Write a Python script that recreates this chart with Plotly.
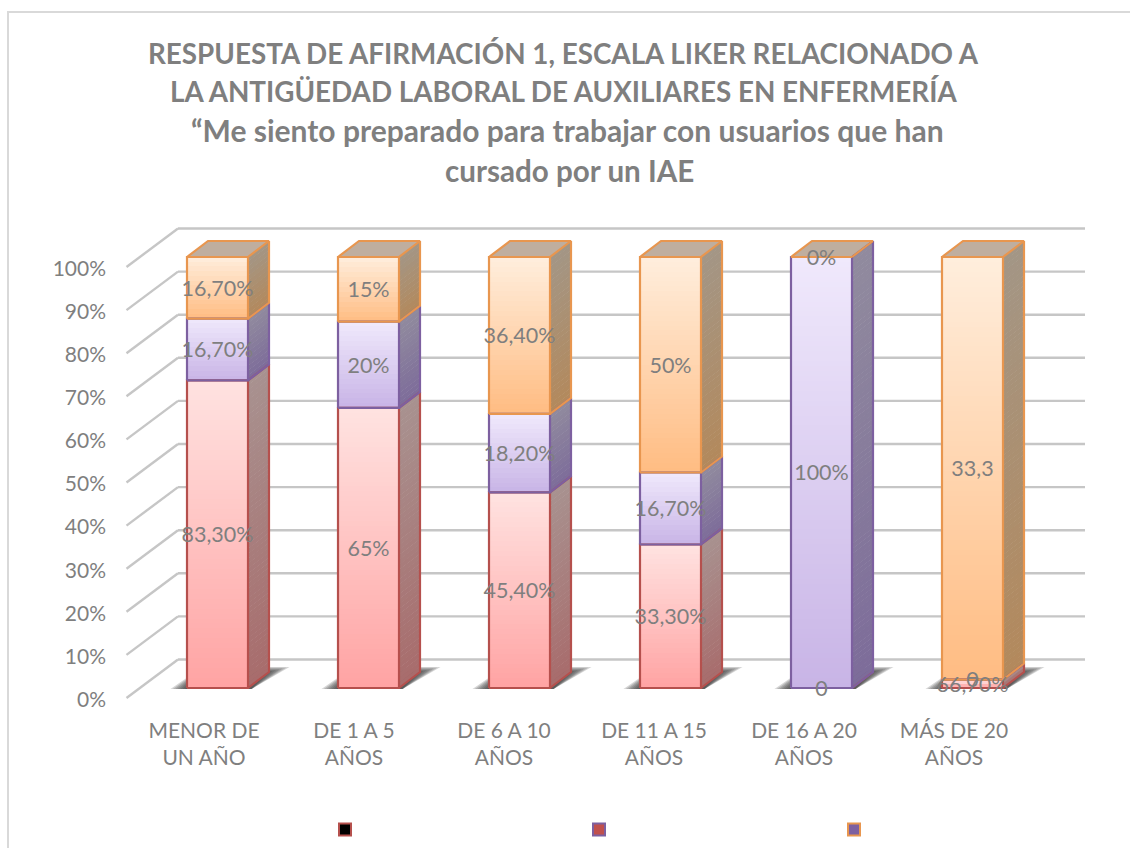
import math
import plotly.graph_objects as go

categories = ["MENOR DE<br>UN AÑO", "DE 1 A 5<br>AÑOS", "DE 6 A 10<br>AÑOS",
              "DE 11 A 15<br>AÑOS", "DE 16 A 20<br>AÑOS", "MÁS DE 20<br>AÑOS"]
title_lines = ["RESPUESTA DE AFIRMACIÓN 1, ESCALA LIKER RELACIONADO A",
               "LA ANTIGÜEDAD LABORAL DE AUXILIARES EN ENFERMERÍA",
               "“Me siento preparado para trabajar con usuarios que han",
               "cursado por un IAE"]
series_a = [0.833, 0.65, 0.454, 0.333, 0, 0.667]
series_b = [0.167, 0.20, 0.182, 0.167, 1.0, 0]
series_c = [0.167, 0.15, 0.364, 0.50, 0, 33.3]
labels_a = ["83,30%", "65%", "45,40%", "33,30%", "0", "66,70%"]
labels_b = ["16,70%", "20%", "18,20%", "16,70%", "100%", "0"]
labels_c = ["16,70%", "15%", "36,40%", "50%", "0%", "33,3"]
y_ticks = list(range(0, 101, 10))

# pixel geometry of the pseudo-3D projection
W, H = 1130, 848
L, R, T, B = 110, 1100, 222, 705
PXX, PXY = 151.0, 4.31
X0PX, Y0PX = 217.5, 698.0
xr = [(L - X0PX) / PXX, (R - X0PX) / PXX]
yr = [(Y0PX - B) / PXY, (Y0PX - T) / PXY]


def dxp(px):
    return px / PXX


def dyp(px):
    return px / PXY


BAR_W = 61 / PXX
DEPTH_X, DEPTH_Y = dxp(21), dyp(16)
BASE_Y = dyp(10)
WALL_Y = dyp(38.5)
GREY = "#7f7f7f"
FONT = "Lato"


def hex2(c):
    return [int(c[i:i + 2], 16) for i in (1, 3, 5)]


def mix(a, b, t):
    a, b = hex2(a), hex2(b)
    return "rgb(%d,%d,%d)" % tuple(round(a[i] + (b[i] - a[i]) * t) for i in range(3))


styles = [
    dict(name="a", vals=series_a, labels=labels_a, line="#b5504d",
         f=("#ffe3e1", "#ffa3a3"), s=("#a89290", "#a86c6c")),
    dict(name="b", vals=series_b, labels=labels_b, line="#7d60a0",
         f=("#f0e9fc", "#c8b4e6"), s=("#918b9e", "#7d6c9a")),
    dict(name="c", vals=series_c, labels=labels_c, line="#e8964f",
         f=("#ffeedd", "#ffbc82"), s=("#a39686", "#b3895c")),
]

shapes = []
# back wall gridlines and left diagonals
grid_right = (1085 - X0PX) / PXX
grid_left = (178 - X0PX) / PXX
diag_left = (126.5 - X0PX) / PXX
for v in y_ticks:
    for xs, ys in (([grid_left, grid_right], [v + WALL_Y, v + WALL_Y]),
                   ([diag_left, grid_left], [v, v + WALL_Y])):
        shapes.append(dict(type="line", xref="x", yref="y", x0=xs[0], x1=xs[1], y0=ys[0], y1=ys[1],
                           layer="below", line=dict(color="#c6c6c6", width=2.4)))

# floor shadows
n = len(categories)
for i in range(n):
    for k in range(7):
        pts = [(-47 + 2.4 * k, 1), (34, 1),
               (72 - 3.4 * k, -21 + 0.8 * k), (-15, -21 + 0.8 * k)]
        path = "M" + " L".join("%.4f,%.4f" % (i + dxp(px), BASE_Y - dyp(py)) for px, py in pts) + " Z"
        shapes.append(dict(type="path", xref="x", yref="y", path=path, layer="below",
                           fillcolor="rgba(50,50,50,0.2)", line=dict(width=0)))

fig = go.Figure()
totals = [sum(s["vals"][i] for s in styles) for i in range(n)]
bottoms = [0.0] * n
text_x, text_y, text_s = [], [], []
outlines = []

for idx, st in enumerate(styles):
    bx, by, bb, bc, ox, oy = [], [], [], [], [], []
    for i in range(n):
        h = 100 * st["vals"][i] / totals[i]
        y0 = bottoms[i] + BASE_Y
        y1 = y0 + h
        hpx = h * PXY
        steps = max(2, math.ceil(hpx / 5)) if h > 0 else 0
        xl, xr_ = i - BAR_W / 2, i + BAR_W / 2
        for k in range(steps):
            a = y0 + h * k / steps
            b = y0 + h * (k + 1) / steps
            t = (k + 0.5) / steps
            bx.append(i)
            by.append(b - a + dyp(0.6))
            bb.append(a)
            bc.append(mix(st["f"][1], st["f"][0], t))
            top = min(b + dyp(0.6), y1)
            path = "M%.4f,%.4f L%.4f,%.4f L%.4f,%.4f L%.4f,%.4f Z" % (
                xr_, a, xr_ + DEPTH_X, a + DEPTH_Y, xr_ + DEPTH_X, top + DEPTH_Y, xr_, top)
            shapes.append(dict(type="path", xref="x", yref="y", path=path, layer="below",
                               fillcolor=mix(st["s"][1], st["s"][0], t), line=dict(width=0)))
        # wire-frame of this segment
        loops = [[(xl, y0), (xr_, y0), (xr_, y1), (xl, y1), (xl, y0)],
                 [(xr_, y0), (xr_ + DEPTH_X, y0 + DEPTH_Y), (xr_ + DEPTH_X, y1 + DEPTH_Y), (xr_, y1)]]
        if idx == len(styles) - 1:
            loops.append([(xl, y1), (xl + DEPTH_X, y1 + DEPTH_Y), (xr_ + DEPTH_X, y1 + DEPTH_Y)])
        for lp in loops:
            ox += [p[0] for p in lp] + [None]
            oy += [p[1] for p in lp] + [None]
        text_x.append(i)
        text_y.append(y0 + h / 2 - dyp(2.5))
        text_s.append(st["labels"][i])
        bottoms[i] += h
    fig.add_trace(go.Bar(x=bx, y=by, base=bb, width=BAR_W, name=st["name"],
                         marker=dict(color=bc, line=dict(width=0)), hoverinfo="skip", showlegend=False))
    outlines.append(go.Scatter(x=ox, y=oy, mode="lines", line=dict(color=st["line"], width=2.2),
                               hoverinfo="skip", showlegend=False))

# top faces
for i in range(n):
    y = bottoms[i] + BASE_Y
    xl, xr_ = i - BAR_W / 2, i + BAR_W / 2
    path = "M%.4f,%.4f L%.4f,%.4f L%.4f,%.4f L%.4f,%.4f Z" % (
        xl, y, xl + DEPTH_X, y + DEPTH_Y, xr_ + DEPTH_X, y + DEPTH_Y, xr_, y)
    shapes.append(dict(type="path", xref="x", yref="y", path=path, layer="below",
                       fillcolor="#bfae9f", line=dict(width=0)))

for tr in outlines:
    fig.add_trace(tr)

fig.add_trace(go.Scatter(x=text_x, y=text_y, text=text_s, mode="text", hoverinfo="skip", showlegend=False,
                         textposition="middle center", cliponaxis=False,
                         textfont=dict(family=FONT, size=21.5, color=GREY)))

# chart border: top and left edges are visible, the right one lies past the picture
shapes.append(dict(type="rect", xref="paper", yref="paper", layer="below",
                   x0=(8 - L) / (R - L), x1=(1140 - L) / (R - L),
                   y0=(B - 860) / (B - T), y1=(B - 12) / (B - T),
                   line=dict(color="#d9d9d9", width=2), fillcolor="rgba(0,0,0,0)"))

# legend keys (their text is empty in the reference)
for cx, fill, edge in ((345, "#000000", "#b5504d"), (599, "#c0504d", "#7d60a0"), (854, "#7d60a0", "#e8964f")):
    shapes.append(dict(type="rect", xref="paper", yref="paper", layer="above",
                       x0=(cx - 6 - L) / (R - L), x1=(cx + 6 - L) / (R - L),
                       y0=(B - 835.5) / (B - T), y1=(B - 823.5) / (B - T),
                       fillcolor=fill, line=dict(color=edge, width=2)))

annotations = []
for line, xc, yc, size in zip(title_lines, (563, 563, 567, 569), (53.5, 91.5, 130.5, 170), (27.8, 27.8, 30, 29.6)):
    annotations.append(dict(text="<b>%s</b>" % line, xref="paper", yref="paper",
                            x=(xc - L) / (R - L), y=(B - yc) / (B - T), xanchor="center", yanchor="middle",
                            showarrow=False, font=dict(family=FONT, size=size, color=GREY)))

tick_x = [(204 + 150 * i - X0PX) / PXX for i in range(n)]
y_tick_pos = [v - dyp(1.5) for v in y_ticks]
fig.update_layout(
    width=W, height=H, autosize=False, barmode="overlay", bargap=0,
    margin=dict(l=L, r=W - R, t=T, b=H - B, pad=0),
    paper_bgcolor="white", plot_bgcolor="rgba(0,0,0,0)",
    shapes=shapes, annotations=annotations, showlegend=False,
    xaxis=dict(range=xr, tickvals=tick_x, ticktext=categories, showgrid=False, zeroline=False,
               showline=False, ticks="", ticklabelstandoff=11, tickangle=0,
               tickfont=dict(family=FONT, size=21, color=GREY)),
    yaxis=dict(range=yr, tickvals=y_tick_pos, ticktext=["%d%%" % v for v in y_ticks], showgrid=False,
               zeroline=False, showline=False, ticks="", ticklabelstandoff=3,
               tickfont=dict(family=FONT, size=21, color=GREY)),
)
fig.write_html("out.html", config=dict(displayModeBar=False),
               post_script="document.body.style.margin='0';")
